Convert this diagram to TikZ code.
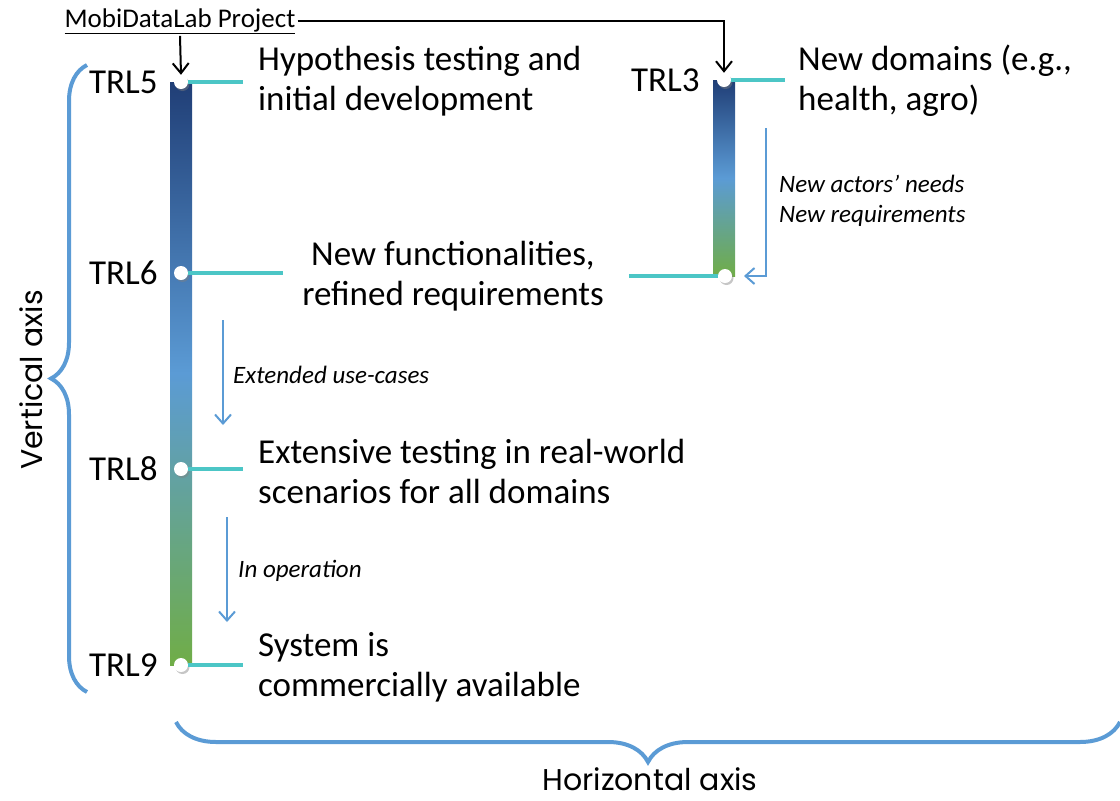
\documentclass[tikz,border=0pt]{standalone}
\usepackage{fontspec}
\setmainfont{Carlito}
\newfontfamily\axisfont{Poppins}
\usetikzlibrary{positioning,arrows.meta,calc,shadows,decorations.pathreplacing}
\definecolor{navy}{HTML}{203E76}
\definecolor{sky}{HTML}{5B9BD5}
\definecolor{leaf}{HTML}{70AD47}
\definecolor{stubcyan}{HTML}{4CC6C6}

\begin{document}
\begin{tikzpicture}[x=1pt, y=-1pt,
    dot/.style={circle, fill=white, inner sep=0pt, minimum size=14pt,
                drop shadow={opacity=0.45, shadow xshift=1.5pt, shadow yshift=-2pt}},
    trl/.style={font=\fontsize{35}{40}\selectfont, inner sep=0pt},
    desc/.style={font=\fontsize{35}{40}\selectfont, align=left, anchor=west, inner sep=0pt},
    note/.style={font=\fontsize{25}{30}\selectfont\itshape, align=left, anchor=west, inner sep=0pt},
    stub/.style={stubcyan, line width=3.5pt},
    flow/.style={sky, line width=2pt, -{Straight Barb[length=9pt, width=16pt]}},
    lead/.style={black, line width=2pt, -{Straight Barb[length=10pt, width=16pt]}},
    axbrace/.style={sky, line width=4pt, decorate},
    axlbl/.style={font=\axisfont\fontsize{30}{36}\selectfont, inner sep=0pt},
    trlbar/.style={top color=navy, bottom color=leaf, middle color=sky}
  ]
  \useasboundingbox (0,0) rectangle (1120,801);

  % --- TRL bars ---
  \shade[trlbar] (170,82) rectangle (192,665);
  \shade[trlbar] (713,80) rectangle (735,276);

  % --- Milestones ---
  \node[dot] (trl5dot) at (181,82) {};
  \node[dot] (trl6dot) at (181,273) {};
  \node[dot] (trl8dot) at (181,469) {};
  \node[dot] (trl9dot) at (181,665) {};
  \node[dot] (trl3dot) at (724,80) {};
  \node[dot] (trl3end) at (725,276) {};

  \node[trl, left=16pt of trl5dot] (trl5) {TRL5};
  \node[trl, left=16pt of trl6dot] (trl6) {TRL6};
  \node[trl, left=16pt of trl8dot] (trl8) {TRL8};
  \node[trl, left=16pt of trl9dot] (trl9) {TRL9};
  \node[trl, left=17pt of trl3dot] (trl3) {TRL3};

  % --- Descriptions ---
  \node[desc] (hyp) at (258,81) {Hypothesis testing and\\initial development};
  \node[desc] (domains) at (798,81) {New domains (e.g.,\\health, agro)};
  \node[desc, anchor=center, align=center] (newfunc) at (453,276)
    {New functionalities,\\refined requirements};
  \node[desc] (extensive) at (258,471) {Extensive testing in real-world\\scenarios for all domains};
  \node[desc] (system) at (258,667) {System is\\commercially available};

  % stubs to the texts
  \draw[stub] (trl5dot.east) -- ([xshift=-15pt]trl5dot.east -| hyp.west);
  \draw[stub] (trl6dot.east) -- ([xshift=-19pt]trl6dot.east -| newfunc.west);
  \draw[stub] ([xshift=25pt]trl3end.west -| newfunc.east) -- (trl3end.west);
  \draw[stub] (trl8dot.east) -- ([xshift=-15pt]trl8dot.east -| extensive.west);
  \draw[stub] (trl9dot.east) -- ([xshift=-15pt]trl9dot.east -| system.west);
  \draw[stub] (trl3dot.east) -- ([xshift=-13pt]trl3dot.east -| domains.west);

  % --- Project entry ---
  \node[font=\fontsize{27}{32}\selectfont, inner sep=2pt] (proj) at (180,21)
    {\underline{MobiDataLab Project}};
  \draw[lead] (proj.south) -- (trl5dot.north);
  \draw[lead] (proj.east) -| (trl3dot.north);

  % --- Transitions ---
  \coordinate (ext1) at (223,320);
  \coordinate (ext2) at (223,425);
  \draw[flow] (ext1) -- (ext2);
  \node[note] (extlbl) at (233,375) {Extended use-cases};

  \coordinate (op1) at (227,517);
  \coordinate (op2) at (227,622);
  \draw[flow] (op1) -- (op2);
  \node[note] (oplbl) at (238,571) {In operation};

  \coordinate (act1) at (766,128);
  \coordinate (act2) at (744,276);
  \draw[flow] (act1) |- (act2);
  \node[note] (actlbl) at (779,201) {New actors’ needs\\New requirements};

  % --- Axes ---
  \draw[axbrace, decoration={brace, amplitude=36pt}] (87,692) -- (87,65);
  \node[axlbl, rotate=90] (vaxis) at (31,380) {Vertical axis};
  \draw[axbrace, decoration={brace, amplitude=40pt}] (1120,722) -- (176,722);
  \node[axlbl] (haxis) at (650,779) {Horizontal axis};
\end{tikzpicture}
\end{document}
